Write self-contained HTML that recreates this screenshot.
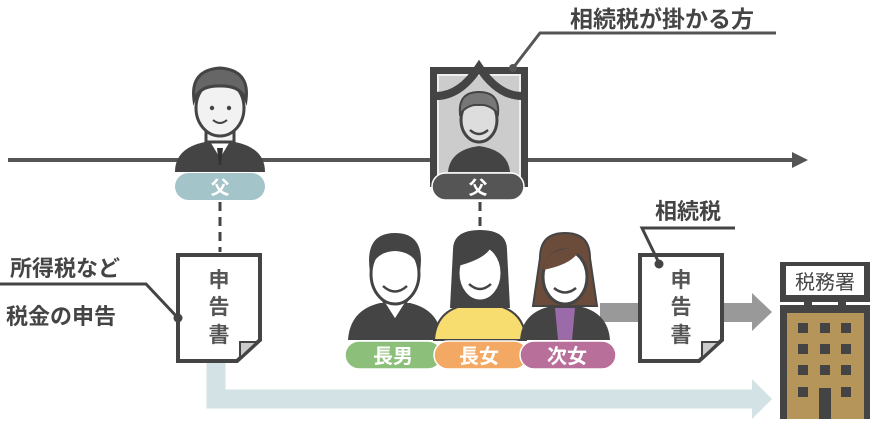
<!DOCTYPE html>
<html><head><meta charset="utf-8"><style>
body{margin:0;background:#fff;width:872px;height:419px;overflow:hidden}
text{font-family:"Liberation Sans","Noto Sans CJK JP",sans-serif;font-weight:bold}
</style></head><body>
<svg width="872" height="419" viewBox="0 0 872 419" xmlns="http://www.w3.org/2000/svg">
<line x1="8" y1="160" x2="795" y2="160" stroke="#555" stroke-width="4"/>
<polygon points="792,152 808,160 792,168" fill="#555"/>

<path d="M216 363 V399 H758" fill="none" stroke="#d3e2e4" stroke-width="19"/>
<polygon points="752,379 772,399 752,419" fill="#d3e2e4"/>
<rect x="600" y="303" width="158" height="19" fill="#999"/>
<polygon points="752,293 772,312 752,331" fill="#999"/>

<g>
<path d="M175 172 Q175 148 205 142 L235 142 Q265 148 265 172 Z" fill="#444"/>
<path d="M208 140 L220 160 L232 140 Z" fill="#fff" stroke="#444" stroke-width="2"/>
<path d="M217 148 L223 148 L221 165 L219 165 Z" fill="#333"/>
<path d="M206 120 L206 142 L234 142 L234 120 Z" fill="#f2f2f2" stroke="#444" stroke-width="3"/>
<ellipse cx="220" cy="108" rx="24" ry="28" fill="#f2f2f2" stroke="#444" stroke-width="3"/>
<path d="M194 100 Q190 70 220 68 Q250 70 246 100 Q240 85 220 86 Q200 85 194 100Z" fill="#666" stroke="#444" stroke-width="3"/>
<circle cx="212" cy="108" r="2.2" fill="#444"/><circle cx="229" cy="108" r="2.2" fill="#444"/>
<path d="M213 120 Q220 126 227 120" fill="none" stroke="#444" stroke-width="2"/>
</g>
<rect x="175" y="173" width="90" height="27" rx="13.5" fill="#a3c4c8"/>
<text x="220" y="194" font-size="19" fill="#fff" text-anchor="middle">父</text>
<line x1="220" y1="202" x2="220" y2="252" stroke="#444" stroke-width="3" stroke-dasharray="9,6"/>

<rect x="430" y="67" width="98" height="120" fill="#444"/>
<rect x="438" y="75" width="82" height="112" fill="#ccc" stroke="#eee" stroke-width="2"/>
<path d="M436 96 Q460 96 479 67 Q498 96 522 96" fill="none" stroke="#444" stroke-width="8"/>
<path d="M448 172 Q450 150 479 146 Q508 150 510 172 Z" fill="#444"/>
<ellipse cx="479" cy="120" rx="18" ry="22" fill="#ddd" stroke="#444" stroke-width="3"/>
<path d="M460 114 Q458 92 479 92 Q500 92 498 114 Q490 104 479 105 Q468 104 460 114Z" fill="#777" stroke="#444" stroke-width="2"/>
<path d="M470 130 Q479 138 488 130" fill="none" stroke="#444" stroke-width="2.5"/>
<rect x="432" y="173" width="92" height="27" rx="13.5" fill="#555" stroke="#fff" stroke-width="1.5"/>
<text x="478" y="194" font-size="19" fill="#fff" text-anchor="middle">父</text>
<line x1="480" y1="202" x2="480" y2="230" stroke="#444" stroke-width="3" stroke-dasharray="9,6"/>
<circle cx="513" cy="68" r="4" fill="#555"/>
<path d="M513 68 L540 33 H776" fill="none" stroke="#555" stroke-width="3"/>
<text x="662" y="27" font-size="23" fill="#444" text-anchor="middle">相続税が掛かる方</text>

<g>
<path d="M348 340 Q350 310 380 303 L410 303 Q440 310 442 340Z" fill="#444"/>
<path d="M383 301 L395 320 L407 301Z" fill="#fff" stroke="#444" stroke-width="2"/>
<ellipse cx="395" cy="274" rx="24" ry="30" fill="#fff" stroke="#444" stroke-width="3"/>
<path d="M370 272 Q364 233 395 233 Q426 233 420 272 Q416 252 395 251 Q374 252 370 272Z" fill="#444"/>
<path d="M383 286 Q395 297 407 286" fill="none" stroke="#444" stroke-width="2.5"/>
</g>
<g>
<path d="M434 340 Q436 310 466 305 L494 305 Q524 310 526 340Z" fill="#f7dc6f" stroke="#444" stroke-width="2"/>
<path d="M453 250 Q453 230 480 230 Q507 230 507 250 L510 308 L450 308Z" fill="#444"/>
<ellipse cx="480" cy="273" rx="22" ry="28" fill="#fff" stroke="#444" stroke-width="3"/>
<path d="M458 266 Q460 240 492 245 Q488 258 458 266Z" fill="#444"/>
<path d="M469 284 Q480 294 491 284" fill="none" stroke="#444" stroke-width="2.5"/>
</g>
<g>
<path d="M520 340 Q522 312 552 306 L578 306 Q608 312 610 340Z" fill="#444"/>
<path d="M555 308 L575 308 L572 340 L558 340Z" fill="#9b6aa8"/>
<path d="M540 258 Q540 233 565 233 Q590 233 590 258 L597 306 L533 306Z" fill="#6b4c3b" stroke="#444" stroke-width="2"/>
<ellipse cx="565" cy="277" rx="22" ry="27" fill="#fff" stroke="#444" stroke-width="3"/>
<path d="M543 270 Q546 246 580 249 Q574 264 543 270Z" fill="#6b4c3b"/>
<path d="M554 288 Q565 297 576 288" fill="none" stroke="#444" stroke-width="2.5"/>
</g>
<rect x="345" y="341" width="97" height="28" rx="14" fill="#8cc07a" stroke="#fff" stroke-width="1.5"/>
<rect x="434" y="341" width="94" height="28" rx="14" fill="#f3a964" stroke="#fff" stroke-width="1.5"/>
<rect x="520" y="341" width="96" height="28" rx="14" fill="#b86f9a" stroke="#fff" stroke-width="1.5"/>
<text x="393" y="363" font-size="20" fill="#fff" text-anchor="middle">長男</text>
<text x="479" y="363" font-size="20" fill="#fff" text-anchor="middle">長女</text>
<text x="567" y="363" font-size="20" fill="#fff" text-anchor="middle">次女</text>

<path d="M178 255 H260 V340 L237 361 H178 Z" fill="#fff" stroke="#444" stroke-width="4"/>
<path d="M240 358 L240 342 L257 342 Z" fill="#ccc" stroke="#444" stroke-width="2"/>
<text x="219" y="287" font-size="21" fill="#555" text-anchor="middle">申</text>
<text x="219" y="314" font-size="21" fill="#555" text-anchor="middle">告</text>
<text x="219" y="342" font-size="21" fill="#555" text-anchor="middle">書</text>
<text x="10" y="276" font-size="22" fill="#444">所得税など</text>
<text x="6" y="324" font-size="22" fill="#444">税金の申告</text>
<path d="M0 284 H146 L178 318" fill="none" stroke="#444" stroke-width="3"/>
<circle cx="178" cy="318" r="4.5" fill="#444"/>

<path d="M640 255 H722 V340 L699 361 H640 Z" fill="#fff" stroke="#444" stroke-width="4"/>
<path d="M702 358 L702 342 L719 342 Z" fill="#ccc" stroke="#444" stroke-width="2"/>
<text x="681" y="287" font-size="21" fill="#555" text-anchor="middle">申</text>
<text x="681" y="314" font-size="21" fill="#555" text-anchor="middle">告</text>
<text x="681" y="342" font-size="21" fill="#555" text-anchor="middle">書</text>
<text x="688" y="219" font-size="22" fill="#444" text-anchor="middle">相続税</text>
<path d="M735 228 H642 L659 263" fill="none" stroke="#444" stroke-width="3"/>
<circle cx="659" cy="264" r="4.5" fill="#444"/>

<rect x="780" y="262" width="90" height="40" fill="#444"/>
<rect x="786" y="266" width="78" height="29" fill="#fff"/>
<text x="825" y="289" font-size="20" fill="#444" text-anchor="middle" style="font-weight:normal">税務署</text>
<rect x="780" y="302" width="90" height="3" fill="#fff"/>
<rect x="804" y="301" width="8" height="5" fill="#444"/><rect x="838" y="301" width="8" height="5" fill="#444"/>
<rect x="780" y="305" width="90" height="114" fill="#444"/>
<rect x="787" y="313" width="77" height="106" fill="#b5955a"/>
<g fill="#444">
<rect x="798" y="323" width="10" height="10"/><rect x="820" y="323" width="10" height="10"/><rect x="841" y="323" width="10" height="10"/>
<rect x="798" y="344" width="10" height="10"/><rect x="820" y="344" width="10" height="10"/><rect x="841" y="344" width="10" height="10"/>
<rect x="798" y="365" width="10" height="10"/><rect x="820" y="365" width="10" height="10"/><rect x="841" y="365" width="10" height="10"/>
<rect x="798" y="387" width="10" height="10"/><rect x="819" y="388" width="12" height="31"/><rect x="841" y="387" width="10" height="10"/>
</g>
</svg>
</body></html>
